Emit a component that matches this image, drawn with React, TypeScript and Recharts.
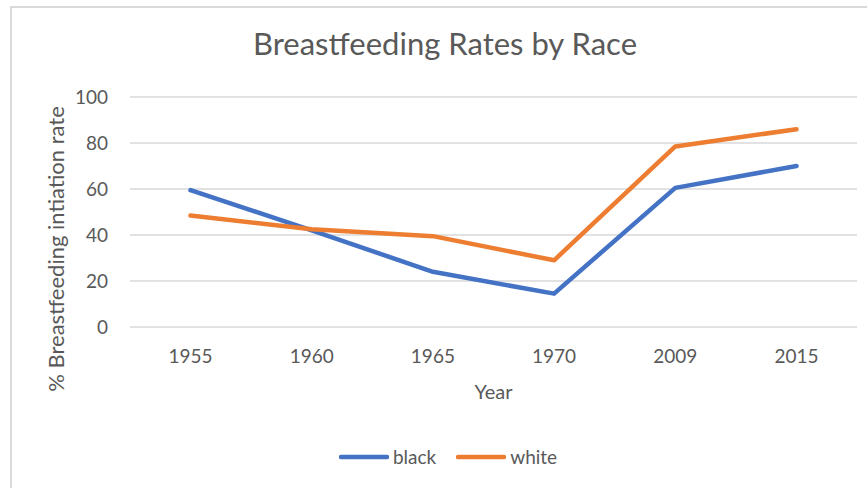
import React from 'react';
import { LineChart, Line, XAxis, YAxis, CartesianGrid, Legend } from 'recharts';

const years = ['1955', '1960', '1965', '1970', '2009', '2015'];
const blackRates = [59.5, 42, 24, 14.5, 60.5, 70];
const whiteRates = [48.5, 42.5, 39.5, 29, 78.5, 86];
const yTicks = [0, 20, 40, 60, 80, 100];

const seriesNames = { black: 'black', white: 'white' };
const colors = { black: '#4472C4', white: '#ED7D31' };

const data = years.map((year, i) => ({ year, black: blackRates[i], white: whiteRates[i] }));

const FONT = 'Lato, "Open Sans", sans-serif';
const TEXT = '#595959';

const LegendContent = (props: any) => {
  const payload = props.payload || [];
  return (
    <div style={{ display: 'flex', justifyContent: 'center', alignItems: 'center', fontFamily: FONT, fontSize: 19, color: TEXT }}>
      {payload.map((p: any, i: number) => (
        <div key={i} style={{ display: 'flex', alignItems: 'center', marginRight: i < payload.length - 1 ? 20 : 0 }}>
          <svg width={50} height={10} style={{ display: 'block' }}>
            <line x1={2} y1={5} x2={48} y2={5} stroke={p.color} strokeWidth={4.5} strokeLinecap="round" />
          </svg>
          <span style={{ marginLeft: 4, lineHeight: '20px' }}>{p.value}</span>
        </div>
      ))}
    </div>
  );
};

const YLabel = (props: any) => {
  const vb = props.viewBox || { x: 0, y: 0, width: 0, height: 0 };
  const cx = vb.x + 64;
  const cy = vb.y + vb.height / 2 + 37;
  return (
    <text x={cx} y={cy} transform={`rotate(-90, ${cx}, ${cy})`} textAnchor="middle" fill={TEXT} fontSize={22} fontFamily={FONT}>
      % Breastfeeding intiation rate
    </text>
  );
};

export default function App() {
  return (
    <div style={{ position: 'absolute', left: 0, top: 0, width: 867, height: 488, overflow: 'hidden', background: '#fff' }}>
      <div style={{ position: 'absolute', left: 10, top: 6, width: 880, height: 500, border: '2px solid #d9d9d9', boxSizing: 'border-box' }} />
      <div style={{ position: 'absolute', left: 10, top: 28, width: 870, textAlign: 'center', fontFamily: FONT, fontSize: 31, lineHeight: '31px', color: TEXT }}>
        Breastfeeding Rates by Race
      </div>
      <div style={{ position: 'absolute', left: 0, top: 0 }}>
        <LineChart width={867} height={488} data={data} margin={{ top: 97, right: 10, bottom: 101, left: 0 }}>
          <CartesianGrid vertical={false} stroke="#d9d9d9" strokeWidth={1.5} />
          <XAxis
            dataKey="year"
            height={60}
            padding={{ left: 60.5, right: 60.5 }}
            axisLine={false}
            tickLine={false}
            tickSize={0}
            tickMargin={23}
            tick={{ fill: TEXT, fontSize: 19, fontFamily: FONT }}
            label={{ value: 'Year', position: 'bottom', offset: -2, fill: TEXT, fontSize: 20, fontFamily: FONT }}
          />
          <YAxis
            width={130}
            domain={[0, 100]}
            ticks={yTicks}
            axisLine={false}
            tickLine={false}
            tickSize={0}
            tickMargin={22}
            tick={{ fill: TEXT, fontSize: 19, fontFamily: FONT }}
            label={{ content: YLabel }}
          />
          <Legend
            verticalAlign="middle"
            layout="horizontal"
            content={LegendContent}
            wrapperStyle={{ position: 'absolute', top: 447, left: 13, width: 870, height: 22 }}
          />
          <Line type="linear" dataKey="black" name={seriesNames.black} stroke={colors.black} strokeWidth={4.5} strokeLinecap="round" strokeLinejoin="round" dot={false} activeDot={false} isAnimationActive={false} />
          <Line type="linear" dataKey="white" name={seriesNames.white} stroke={colors.white} strokeWidth={4.5} strokeLinecap="round" strokeLinejoin="round" dot={false} activeDot={false} isAnimationActive={false} />
        </LineChart>
      </div>
    </div>
  );
}
